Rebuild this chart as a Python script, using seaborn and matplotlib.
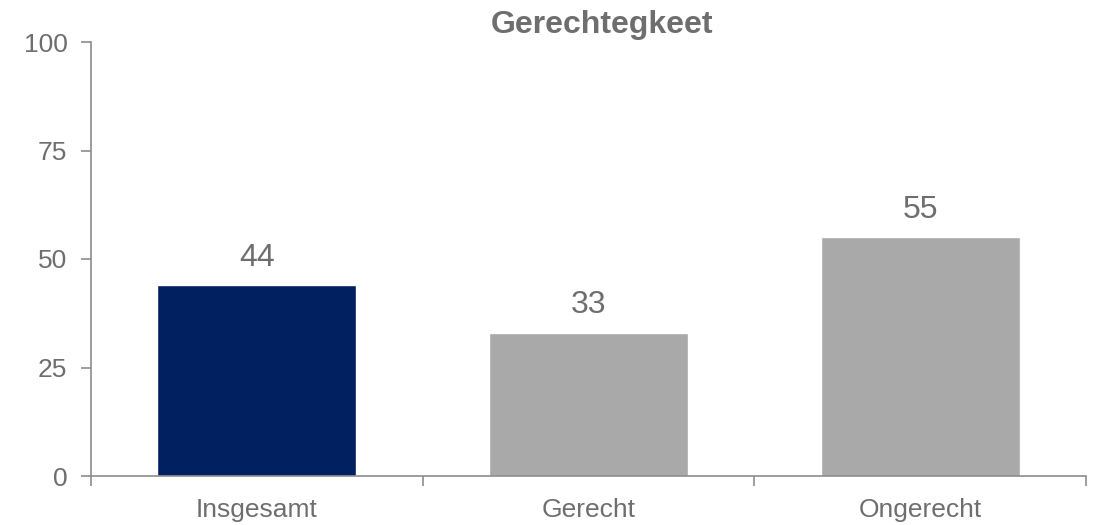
import matplotlib
matplotlib.use("Agg")
import matplotlib.pyplot as plt
import seaborn as sns
import pandas as pd

categories = ["Insgesamt", "Gerecht", "Ongerecht"]
values = [44, 33, 55]
bar_colors = ["#002060", "#A9A9A9", "#A9A9A9"]
title = "Gerechtegkeet"
yticks = [0, 25, 50, 75, 100]

sns.set_theme(style="white")
plt.rcParams['font.family'] = ['Liberation Sans', 'DejaVu Sans']

text_color = "#6E6E6E"
axis_color = "#8C8C8C"

df = pd.DataFrame({"cat": categories, "val": values})

fig = plt.figure(figsize=(10.94, 5.25), dpi=100)
ax = fig.add_axes([91/1094, 1 - 476/525, (1086-91)/1094, (476-42)/525])

sns.barplot(data=df, x="cat", y="val", hue="cat", palette=bar_colors,
            width=0.6, legend=False, ax=ax, saturation=1)

ax.set_ylim(0, 100)
ax.set_xlim(-0.5, 2.5)
ax.set_yticks(yticks)
ax.set_yticklabels([str(t) for t in yticks], fontsize=19, color=text_color)
ax.set_xlabel("")
ax.set_ylabel("")

# category ticks at boundaries
ax.set_xticks([0, 1, 2])
ax.set_xticklabels(categories, fontsize=19, color=text_color)
ax.tick_params(axis="x", length=0, pad=16)
ax.set_xticks([-0.5, 0.5, 1.5, 2.5], minor=True)
ax.tick_params(axis="x", which="minor", length=7, width=1.2, color=axis_color, direction="out", bottom=True)
ax.tick_params(axis="y", length=7, width=1.2, color=axis_color, direction="out", left=True, pad=10)

for s in ["top", "right"]:
    ax.spines[s].set_visible(False)
for s in ["left", "bottom"]:
    ax.spines[s].set_color(axis_color)
    ax.spines[s].set_linewidth(1.2)

for cont in ax.containers:
    ax.bar_label(cont, fmt="%d", padding=9, fontsize=23, color=text_color)

fig.text(602/1094, 1 - 25/525, title, ha="center", va="center",
         fontsize=23, fontweight="bold", color=text_color)

fig.savefig("out.png", dpi=100)
